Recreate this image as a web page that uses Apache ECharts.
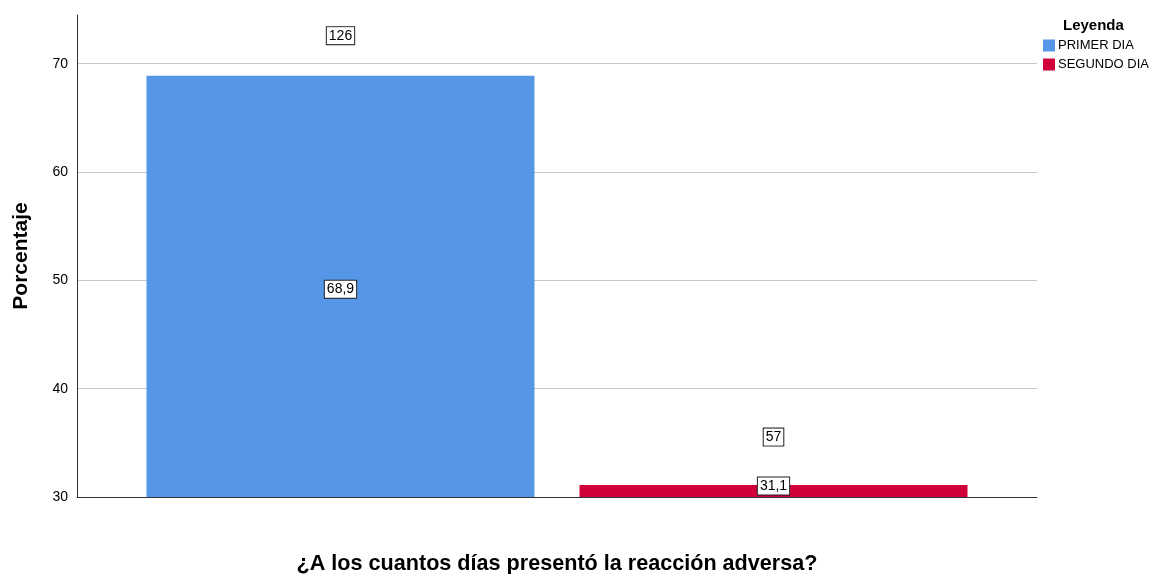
<!DOCTYPE html>
<html><head><meta charset="utf-8">
<script src="https://cdn.jsdelivr.net/npm/echarts@6/dist/echarts.min.js"></script>
<style>html,body{margin:0;padding:0;background:#fff}#c{width:1153px;height:574px}</style>
</head><body><div id="c"></div>
<script>
const categories = [''];
const seriesNames = ['PRIMER DIA', 'SEGUNDO DIA'];
const percentValues = [68.9, 31.1];
const countValues = [126, 57];
const yTicks = [30, 40, 50, 60, 70];
const colors = ['#5596E6', '#D2003A'];
const countOffsets = [-40, -48];
const percentOffsets = [3, -5];

const chart = echarts.init(document.getElementById('c'));
const boxLabel = {
  color: '#000', fontFamily: 'Arial, Liberation Sans', fontSize: 14,
  backgroundColor: '#fff', borderColor: '#222', borderWidth: 1, padding: [2, 2, 1, 2]
};
const series = seriesNames.map((name, i) => ({
  name: name,
  type: 'bar',
  data: [percentValues[i]],
  barWidth: 388,
  barGap: '11.6%',
  itemStyle: { color: colors[i] },
  label: Object.assign({ show: true, position: 'inside', offset: [0, percentOffsets[i]],
    formatter: p => String(p.value).replace('.', ',') }, boxLabel),
  markPoint: {
    symbol: 'rect', symbolSize: 0,
    data: [{ coord: [0, percentValues[i]], value: countValues[i] }],
    label: Object.assign({ show: true, position: 'inside', offset: [0, countOffsets[i]],
      formatter: p => String(p.value) }, boxLabel)
  }
}));
chart.setOption({
  animation: false,
  textStyle: { fontFamily: 'Arial, Liberation Sans' },
  grid: { left: 77, right: 116, top: 15, bottom: 77, containLabel: false, outerBoundsMode: 'none' },
  legend: {
    orient: 'vertical', left: 1038, top: 34, itemWidth: 12, itemHeight: 12, itemGap: 6,
    icon: 'rect', textStyle: { fontSize: 13, color: '#000', padding: [0, 0, 0, -2] },
    data: seriesNames
  },
  graphic: [{ type: 'text', left: 1063, top: 18,
    style: { text: 'Leyenda', font: 'bold 15px Arial, Liberation Sans', fill: '#000' } }],
  xAxis: {
    type: 'category', data: categories,
    axisLine: { lineStyle: { color: '#333', width: 1 } },
    axisTick: { show: false }, axisLabel: { show: false },
    name: '¿A los cuantos días presentó la reacción adversa?',
    nameLocation: 'middle', nameGap: 56,
    nameTextStyle: { fontSize: 21.6, fontWeight: 'bold', color: '#000' }
  },
  yAxis: {
    type: 'value', min: yTicks[0], max: 74.5, interval: 10,
    axisLine: { show: true, lineStyle: { color: '#333', width: 1 } },
    axisTick: { show: false },
    axisLabel: { color: '#000', fontSize: 14, margin: 9,
      formatter: v => yTicks.includes(v) ? String(v) : '', showMaxLabel: false },
    splitLine: { showMaxLine: false, showMinLine: false, lineStyle: { color: '#c8c8c8', width: 1 } },
    name: 'Porcentaje', nameLocation: 'middle', nameGap: 45, nameRotate: 90,
    nameTextStyle: { fontSize: 21, fontWeight: 'bold', color: '#000' }
  },
  series: series
});
</script></body></html>
